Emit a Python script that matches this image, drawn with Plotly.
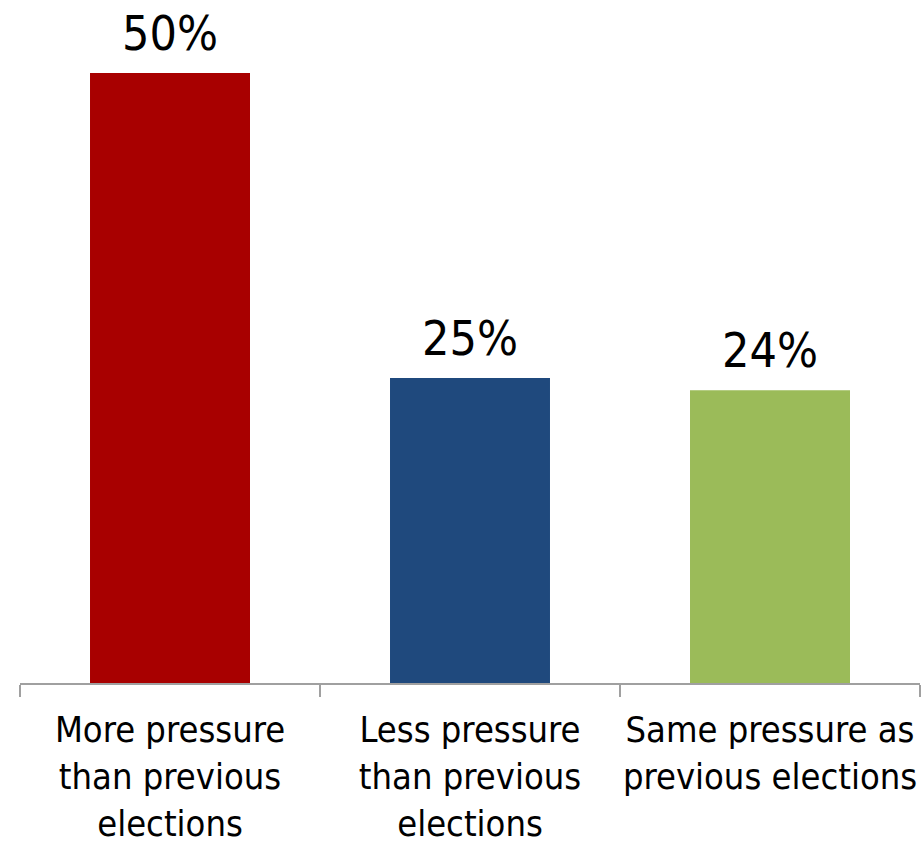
import plotly.graph_objects as go

categories = [
    "More pressure<br>than previous<br>elections",
    "Less pressure<br>than previous<br>elections",
    "Same pressure as<br>previous elections",
]
values = [50, 25, 24]
colors = ["#A80000", "#1F497D", "#9BBB59"]

FONT = "DejaVu Sans Condensed, Tahoma, DejaVu Sans, sans-serif"

fig = go.Figure(
    go.Bar(
        x=categories,
        y=values,
        marker=dict(color=colors, line=dict(width=0)),
        width=0.5333,
        hoverinfo="skip",
    )
)

for c, v in zip(categories, values):
    fig.add_annotation(
        x=c, y=v, text=f"{v}%", showarrow=False,
        yanchor="bottom", yshift=10,
        font=dict(family=FONT, size=48, color="#000000"),
    )

fig.update_layout(
    width=922, height=844,
    margin=dict(l=20, r=2, t=40, b=161),
    paper_bgcolor="white", plot_bgcolor="white",
    showlegend=False,
    font=dict(family=FONT, color="#000000"),
)
fig.update_xaxes(
    showline=True, linecolor="#A0A0A0", linewidth=2,
    ticks="outside", tickson="boundaries", ticklen=12,
    tickwidth=2, tickcolor="#A0A0A0",
    tickangle=0, automargin=False, ticklabelstandoff=14,
    tickfont=dict(family=FONT, size=36, color="#000000"),
    showgrid=False, zeroline=False,
)
fig.update_yaxes(
    range=[0, 643 / 12.2], visible=False, showgrid=False, zeroline=False,
    automargin=False,
)

fig.write_html("out.html")
